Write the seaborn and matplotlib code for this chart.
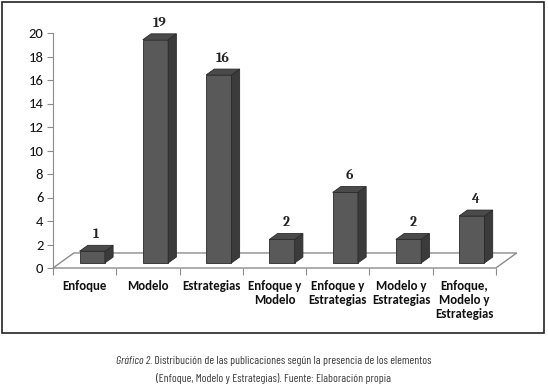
import seaborn as sns
from matplotlib import pyplot as plt
from matplotlib.patches import Polygon, Rectangle
from matplotlib import font_manager

categories = ["Enfoque", "Modelo", "Estrategias", "Enfoque y\nModelo",
              "Enfoque y\nEstrategias", "Modelo y\nEstrategias",
              "Enfoque,\nModelo y\nEstrategias"]
values = [1, 19, 16, 2, 6, 2, 4]
y_ticks = [0, 2, 4, 6, 8, 10, 12, 14, 16, 18, 20]
caption_lead = "Gráfico 2."
caption_1 = " Distribución de las publicaciones según la presencia de los elementos"
caption_2 = "(Enfoque, Modelo y Estrategias). Fuente: Elaboración propia"

# fake 3d geometry (in data units)
base = 0.43
shift = 0.12
bar_dx, bar_dy = 0.13, 0.5
floor_dx, floor_dy = 0.33, 1.28

names = {f.name for f in font_manager.fontManager.ttflist}


def pick(*fams):
    for f in fams:
        if f in names:
            return f
    return "DejaVu Sans"


body_font = pick("Carlito", "Lato")
num_font = pick("Caladea", "Liberation Serif")
cap_font = pick("Barlow Condensed", "Roboto Condensed", "Archivo Narrow")

sns.set_style("white")
plt.rcParams['font.family'] = [body_font, 'DejaVu Sans']

fig = plt.figure(figsize=(5.48, 3.92), dpi=100)
ax = fig.add_axes([53 / 548, 124 / 392, 465 / 548, 235 / 392])

sns.barplot(x=list(range(len(values))), y=values, ax=ax, color="#595959",
            width=0.4, saturation=1, edgecolor="#2a2a2a", linewidth=0.6,
            zorder=3)

ax.set_xlim(-0.5, 6.5 + floor_dx + 0.02)
ax.set_ylim(0, 20)

# floor
floor = Polygon([(-0.5, 0), (6.5, 0), (6.5 + floor_dx, floor_dy),
                 (-0.5 + floor_dx, floor_dy)], closed=True, facecolor="white",
                edgecolor="#8c8c8c", linewidth=1.0, zorder=1, clip_on=False)
ax.add_patch(floor)

for patch, v in zip(ax.patches[:len(values)], values):
    patch.set_x(patch.get_x() + shift)
    patch.set_y(base)
    x0 = patch.get_x()
    w = patch.get_width()
    x1 = x0 + w
    top = base + v
    side = Polygon([(x1, base), (x1 + bar_dx, base + bar_dy),
                    (x1 + bar_dx, top + bar_dy), (x1, top)], closed=True,
                   facecolor="#3b3b3b", edgecolor="#2a2a2a", linewidth=0.6,
                   zorder=3, clip_on=False)
    cap = Polygon([(x0, top), (x1, top), (x1 + bar_dx, top + bar_dy),
                   (x0 + bar_dx, top + bar_dy)], closed=True,
                  facecolor="#4a4a4a", edgecolor="#2a2a2a", linewidth=0.6,
                  zorder=3, clip_on=False)
    ax.add_patch(side)
    ax.add_patch(cap)
    ax.annotate(str(v), (x0 + (w + bar_dx) / 2, top + bar_dy),
                xytext=(0, 3), textcoords="offset points", ha="center",
                va="bottom", fontsize=10, fontweight="bold",
                family=num_font, color="#222222",
                annotation_clip=False)

sns.despine(ax=ax, top=True, right=True, bottom=True)
ax.spines["left"].set_color("#8c8c8c")
ax.set_yticks(y_ticks)
ax.tick_params(axis="y", length=4, color="#8c8c8c", labelsize=10.5,
               labelcolor="#111111", left=True, pad=3)

bounds = [i - 0.5 for i in range(len(values) + 1)]
ax.set_xticks(bounds)
ax.set_xticklabels([""] * len(bounds))
ax.tick_params(axis="x", which="major", length=5, color="#8c8c8c", bottom=True)
ax.set_xticks(range(len(values)), minor=True)
ax.set_xticklabels(categories, minor=True, fontsize=9.3, fontweight="bold",
                   linespacing=1.2, color="#111111")
ax.tick_params(axis="x", which="minor", length=0, pad=9)
ax.set_xlabel("")
ax.set_ylabel("")

# frame around chart
fig.patches.append(Rectangle((2 / 548, 1 - 333 / 392), 542 / 548, 331 / 392,
                             transform=fig.transFigure, fill=False,
                             edgecolor="#222222", linewidth=1.2))

# caption: italic lead + regular rest, centred together, ~312 px wide
renderer = fig.canvas.get_renderer()
cap_size = 9.5
t_lead = fig.text(0, 1 - 361 / 392, caption_lead, ha="left", va="center",
                  fontsize=cap_size, style="italic", family=cap_font,
                  color="#3a3a3a")
t_rest = fig.text(0, 1 - 361 / 392, caption_1, ha="left", va="center",
                  fontsize=cap_size, family=cap_font, color="#3a3a3a")
total = (t_lead.get_window_extent(renderer).width
         + t_rest.get_window_extent(renderer).width)
cap_size = min(cap_size * 312 / total, 10)
t_lead.set_fontsize(cap_size)
t_rest.set_fontsize(cap_size)
w_lead = t_lead.get_window_extent(renderer).width / 548
w_rest = t_rest.get_window_extent(renderer).width / 548
start = 0.5 - (w_lead + w_rest) / 2
t_lead.set_x(start)
t_rest.set_x(start + w_lead)
fig.text(0.5, 1 - 379 / 392, caption_2, ha="center", va="center",
         fontsize=cap_size, family=cap_font, color="#3a3a3a")

fig.savefig("out.png", dpi=100)
